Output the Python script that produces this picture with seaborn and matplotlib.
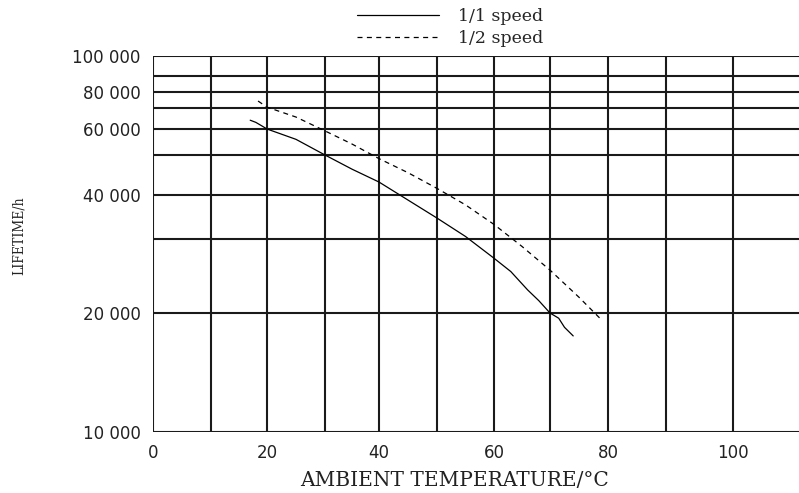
import numpy as np
import matplotlib
matplotlib.use("Agg")
import matplotlib.pyplot as plt
import seaborn as sns

# 1/1 speed
temp_full = [17, 18, 19, 20, 25, 30, 35, 40, 45, 50, 55, 60, 63, 66, 68, 70, 71.5, 72.5, 74]
life_full = [64000, 63000, 61500, 60000, 55800, 50000, 46200, 43000, 38700, 34400, 30500,
             27000, 25100, 22700, 21400, 20000, 19400, 18400, 17500]

# 1/2 speed
temp_half = [18.4, 20, 25, 30, 35, 40, 45, 50, 55, 60, 65, 70, 75, 78.6]
life_half = [74200, 70500, 65500, 59200, 54000, 49000, 45300, 41500, 37500, 33000,
             28800, 25300, 21800, 19400]

x_ticks = [0, 20, 40, 60, 80, 100]
x_grid = [0, 10, 20, 30, 40, 50, 60, 70, 80, 90, 100]
y_grid = [10000, 20000, 30000, 40000, 50000, 60000, 70000, 80000, 90000, 100000]
y_labels = ["10 000", "20 000", "", "40 000", "", "60 000", "", "80 000", "", "100 000"]

# the datasheet grid is not evenly spaced, so the scales follow the drawn grid
x_ref = np.array([0, 10, 20, 30, 40, 50, 60, 70, 80, 90, 100, 110], dtype=float)
x_pos = np.array([153, 211, 267, 325, 379, 437, 494, 550, 608, 666, 733, 799], dtype=float)
y_ref = np.log10(np.array(y_grid, dtype=float))
y_pos = -np.array([432, 313, 239, 195, 155, 129, 108, 92, 76, 56], dtype=float)


def x_fwd(t):
    return np.interp(t, x_ref, x_pos)


def x_inv(p):
    return np.interp(p, x_pos, x_ref)


def y_fwd(v):
    v = np.clip(np.asarray(v, dtype=float), 1, None)
    return np.interp(np.log10(v), y_ref, y_pos)


def y_inv(p):
    return 10 ** np.interp(p, y_pos, y_ref)


sns.set_theme(style="white")
plt.rcParams['font.family'] = ['DejaVu Sans']

fig = plt.figure(figsize=(7.99, 4.93), dpi=100)
ax = fig.add_axes([153 / 799, (493 - 432) / 493, (799 - 153) / 799, (432 - 56) / 493])

sns.lineplot(x=temp_full, y=life_full, ax=ax, color="black", lw=0.9, sort=False,
             estimator=None, label="1/1 speed")
sns.lineplot(x=temp_half, y=life_half, ax=ax, color="black", lw=0.9, sort=False,
             estimator=None, label="1/2 speed", linestyle=(0, (4, 3.5)))

ax.set_xscale("function", functions=(x_fwd, x_inv))
ax.set_yscale("function", functions=(y_fwd, y_inv))
ax.set_xlim(0, 110)
ax.set_ylim(10000, 100000)

ax.set_xticks(x_grid)
ax.set_xticklabels([str(t) if t in x_ticks else "" for t in x_grid])
ax.set_yticks(y_grid)
ax.set_yticklabels(y_labels)
ax.yaxis.set_minor_locator(matplotlib.ticker.NullLocator())
ax.xaxis.set_minor_locator(matplotlib.ticker.NullLocator())
ax.tick_params(axis="both", length=0, labelsize=12, colors="#222222")
ax.tick_params(axis="y", pad=9)
ax.tick_params(axis="x", pad=9)

ax.grid(True, color="#1a1a1a", lw=1.5)
for s in ax.spines.values():
    s.set_visible(False)

ax.set_xlabel("AMBIENT TEMPERATURE/°C", family="DejaVu Serif", fontsize=14.5,
              color="#222222")
ax.xaxis.set_label_coords((454 - 153) / 646, -(480 - 432) / 376)
ax.xaxis.label.set_va("center")
fig.text(0.023, 1 - 236 / 493, "LIFETIME/h", rotation=90, family="DejaVu Serif",
         fontstretch="condensed", fontsize=10, color="#222222", ha="center", va="center")

ax.legend_.remove()
handles, labels = ax.get_legend_handles_labels()
fig.legend(handles, labels, loc="upper left", bbox_to_anchor=(354 / 799, 0.99),
           frameon=False, borderaxespad=0, borderpad=0.2, handlelength=4.7,
           handletextpad=1.1, labelspacing=0.27,
           prop={"family": "DejaVu Serif", "size": 12.5})

fig.savefig("out.png", dpi=100)
